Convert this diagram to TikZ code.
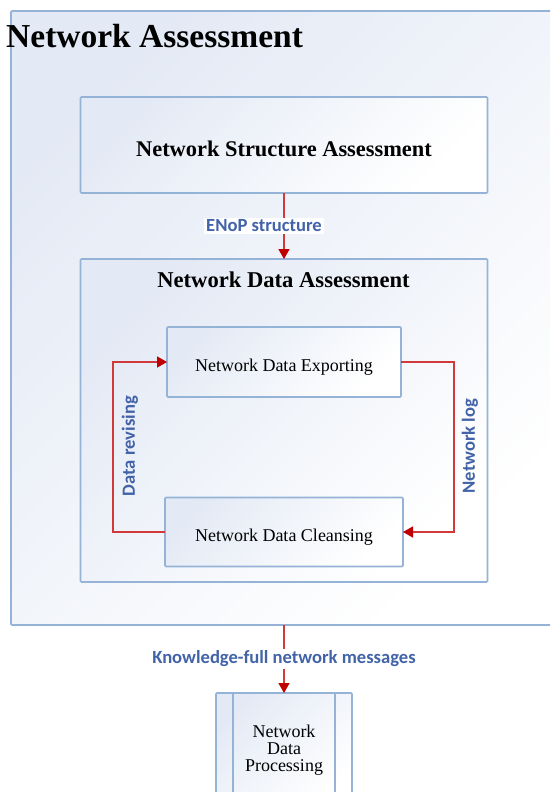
\documentclass[tikz,border=0pt]{standalone}
\usepackage{fontspec}
\setmainfont{Liberation Serif}
\newfontfamily\labelfont{Carlito}
\usetikzlibrary{arrows.meta,calc}
\definecolor{frameblue}{HTML}{95B3D7}
\definecolor{fillblue}{HTML}{E4EAF5}
\definecolor{flowred}{HTML}{D03A3A}
\definecolor{tipred}{HTML}{C00000}
\definecolor{labelblue}{HTML}{4263A8}

\begin{document}
\begin{tikzpicture}[x=1pt,y=-1pt,
  panel/.style={draw=frameblue, line width=1.7pt, rounded corners=1pt,
    top color=fillblue, bottom color=white, shading angle=45,
    inner sep=0pt, outer sep=0pt},
  stepbox/.style={panel, font=\fontsize{18}{17}\selectfont},
  flow/.style={draw=flowred, line width=1.4pt,
    -{Triangle[length=10pt,width=11pt,color=tipred]}},
  flowlabel/.style={font=\labelfont\bfseries\fontsize{18.6}{20}\selectfont,
    text=labelblue, fill=white, inner sep=2pt},
  sidelabel/.style={font=\labelfont\bfseries\fontsize{18.6}{20}\selectfont,
    text=labelblue, inner sep=0pt, rotate=90}
]
\clip (0,0) rectangle (550,792);
\fill[white] (0,0) rectangle (550,792);

% outer frame and its heading
\node[panel, minimum width=549pt, minimum height=614pt] (outer) at (285.5,318) {};
\node[anchor=base west, inner sep=0pt, font=\bfseries\fontsize{33.5}{36}\selectfont]
  (title) at (6,48) {Network Assessment};

% structure assessment
\node[panel, minimum width=407pt, minimum height=96pt,
  font=\bfseries\fontsize{22.4}{24}\selectfont, text height=22pt, text depth=0pt]
  (nsa) at (284,145) {Network Structure Assessment};

% data assessment with its loop
\node[panel, minimum width=407pt, minimum height=323pt] (nda) at (284,420.5) {};
\node[anchor=base, inner sep=0pt, font=\bfseries\fontsize{22.6}{24}\selectfont]
  (ndatitle) at (283.5,287) {Network Data Assessment};

\node[stepbox, minimum width=234pt, minimum height=70pt,
  text height=19.4pt, text depth=0pt] (nde) at (284,362) {Network Data Exporting};
\node[stepbox, minimum width=238pt, minimum height=69pt,
  text height=18.4pt, text depth=0pt] (ndc) at (284,532) {Network Data Cleansing};

\draw[flow] (nsa.south) -- node[flowlabel, xshift=-20pt] (enop) {ENoP structure} (nda.north);

\draw[flow] (nde.east) -- ++(53,0) |- (ndc.east);
\draw[flow] (ndc.west) -- ++(-52,0) |- (nde.west);
\node[sidelabel] (revise) at (130,446) {Data revising};
\node[sidelabel] (netlog) at (470,446) {Network log};

% downstream processing
\node[stepbox, align=center, minimum width=136pt, minimum height=114pt, anchor=north]
  (ndp) at (284,693) {Network\\Data\\Processing};
\draw[frameblue, line width=1.7pt]
  ($(ndp.north west)+(17,0)$) -- ($(ndp.south west)+(17,0)$)
  ($(ndp.north east)+(-17,0)$) -- ($(ndp.south east)+(-17,0)$);

\draw[flow] (ndp.north |- outer.south) -- node[flowlabel] (knowmsg)
  {Knowledge-full network messages} (ndp.north);
\end{tikzpicture}
\end{document}
